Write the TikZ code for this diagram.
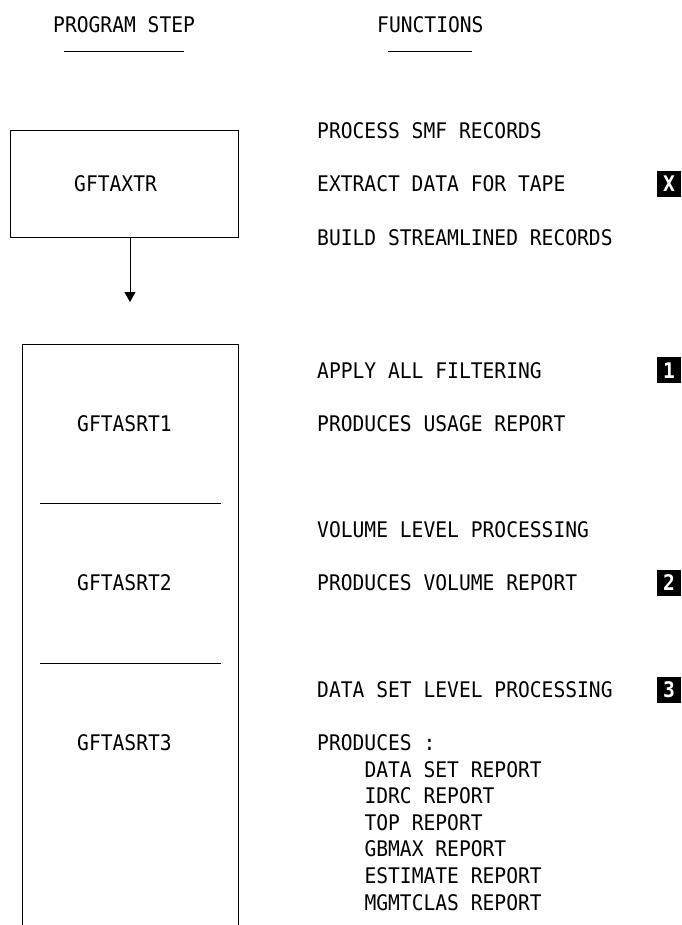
\documentclass[tikz,border=0pt]{standalone}
\usepackage{fontspec}
\newfontfamily\mono[FakeStretch=0.913]{DejaVu Sans Mono}
\usetikzlibrary{positioning}
\usetikzlibrary{arrows.meta}

\begin{document}
\begin{tikzpicture}
			[x=1pt,y=-1pt,
			 every node/.style={font=\mono\fontsize{21.5}{26.6}\selectfont,inner sep=0pt,text height=15.7pt,text depth=0pt},
			 fn/.style={anchor=west},
			 stepbox/.style={draw,line width=1pt,minimum width=228pt,minimum height=106pt},
			 tagbox/.style={fill=black,text=white,font=\mono\bfseries\fontsize{21.5}{26.6}\selectfont,minimum width=24pt,minimum height=26pt},
			 rule/.style={line width=1pt},
			 connect/.style={line width=1pt,-{Triangle[width=11pt,length=10pt]}},
		   node distance=26.6pt]
			\useasboundingbox (0,0) rectangle (681,925);

			\node (hstep) [fn] at (53,24.5) {PROGRAM STEP};
			\node (hfunc) [fn] at (377,24.5) {FUNCTIONS};
			\draw [line width=0.8pt] ([xshift=11pt,yshift=-26.5pt]hstep.west) -- ++(120,0);
			\draw [line width=0.8pt] ([xshift=11pt,yshift=-26.5pt]hfunc.west) -- ++(84,0);

			\node (xtr) [stepbox] at (124,184) {};
			\node (nxtr) [fn] at (74,184.1) {GFTAXTR};
			\coordinate (a1) at (130,302);
			\draw [connect] (xtr.south -| a1) -- (a1);

			% open stack of the sort steps
			\draw [rule] (22,925) -- (22,344) -- (238,344) -- (238,925);
			\draw [rule] (40,503) -- (221,503);
			\draw [rule] (40,663) -- (221,663);
			\node (nsrt1) [fn] at (77,423.5) {GFTASRT1};
			\node (nsrt2) [below=159.6pt of nsrt1.west,fn] {GFTASRT2};
			\node (nsrt3) [below=159.6pt of nsrt2.west,fn] {GFTASRT3};

			\node (f1) [fn] at (317,130.9) {PROCESS SMF RECORDS};
			\node (f2) [below=53.2pt of f1.west,fn] {EXTRACT DATA FOR TAPE};
			\node (f3) [below=53.2pt of f2.west,fn] {BUILD STREAMLINED RECORDS};
			\node (f4) [below=133pt of f3.west,fn] {APPLY ALL FILTERING};
			\node (f5) [below=53.2pt of f4.west,fn] {PRODUCES USAGE REPORT};
			\node (f6) [below=106.4pt of f5.west,fn] {VOLUME LEVEL PROCESSING};
			\node (f7) [below=53.2pt of f6.west,fn] {PRODUCES VOLUME REPORT};
			\node (f8) [below=106.4pt of f7.west,fn] {DATA SET LEVEL PROCESSING};
			\node (f9) [below=53.2pt of f8.west,fn] {PRODUCES :};
			\node (r1) [below=of f9.west,xshift=47.3pt,fn] {DATA SET REPORT};
			\node (r2) [below=of r1.west,fn] {IDRC REPORT};
			\node (r3) [below=of r2.west,fn] {TOP REPORT};
			\node (r4) [below=of r3.west,fn] {GBMAX REPORT};
			\node (r5) [below=of r4.west,fn] {ESTIMATE REPORT};
			\node (r6) [below=of r5.west,fn] {MGMTCLAS REPORT};

			\coordinate (tcol) at (669,0);
			\node (tx) [tagbox] at (f2 -| tcol) {X};
			\node (t1) [tagbox] at (f4 -| tcol) {1};
			\node (t2) [tagbox] at (f7 -| tcol) {2};
			\node (t3) [tagbox] at (f8 -| tcol) {3};
		\end{tikzpicture}
\end{document}
